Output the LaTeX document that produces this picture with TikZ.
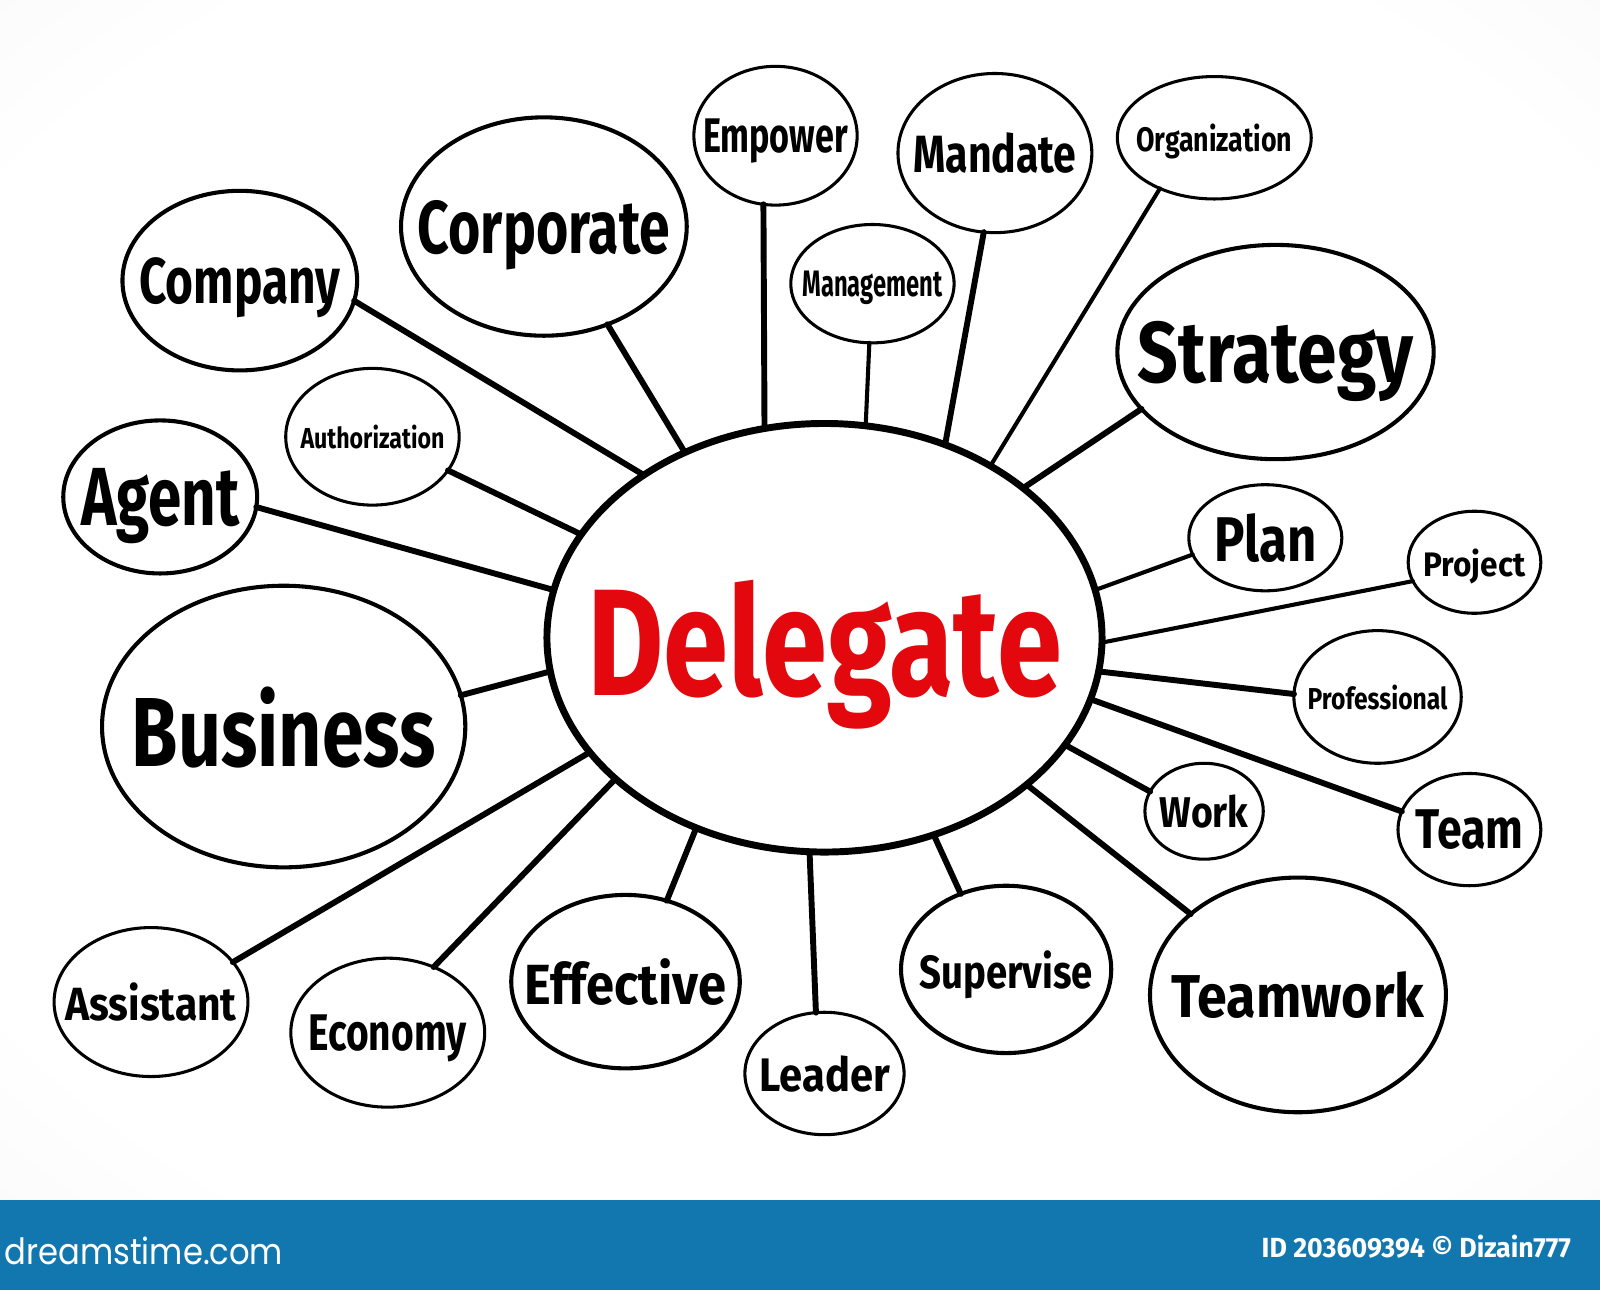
\documentclass[tikz,border=0pt]{standalone}
\usepackage{fontspec}
\usepackage{graphicx}
\setmainfont{Fira Sans}
\newfontfamily\bannerfont{Poppins}
\usetikzlibrary{shapes.geometric}
\definecolor{bannerblue}{RGB}{17,119,174}
\definecolor{delred}{RGB}{226,8,14}
\pgfdeclareradialshading{bgshade}{\pgfpoint{0bp}{0bp}}{%
  color(0bp)=(white); color(30bp)=(white); color(48bp)=(black!5); color(70bp)=(black!9); color(100bp)=(black!9)}
% label: width (pt), height (pt), text -- centred, taking no room in the node
\newcommand\lbl[3]{\makebox[0pt]{\raisebox{-0.5\height}[0pt][0pt]{\resizebox{#1pt}{#2pt}{\bfseries #3}}}}
\newcommand\blbl[3]{\makebox[0pt]{\raisebox{-0.5\height}[0pt][0pt]{\resizebox{#1pt}{#2pt}{#3}}}}
\tikzset{
  bub/.style={ellipse, draw=black, line width=2pt, inner sep=0pt, outer sep=0pt},
  sbub/.style={bub, line width=1.5pt},
  hub/.style={ellipse, draw=black, line width=3.4pt, inner sep=0pt, outer sep=0pt,
              minimum width=272pt, minimum height=210pt, text=delred},
  link/.style={line width=2.9pt, line cap=round},
  thin link/.style={line width=2pt, line cap=round},
}
\begin{document}
\begin{tikzpicture}[x=0.5pt,y=-0.5pt]
\useasboundingbox (0,0) rectangle (1568,1264);
\shade[shading=bgshade] (0,0) rectangle (1568,1176);
\fill[bannerblue] (0,1176) rectangle (1568,1264);

% centre
\node[hub] (delegate) at (808,625) {\lbl{232.5}{56.5}{Delegate}};

% satellites
\node[bub, minimum width=115pt, minimum height=88pt]  (company)       at (235,275)  {\lbl{98.5}{22.5}{Company}};
\node[bub, minimum width=140pt, minimum height=107pt] (corporate)     at (533,222)  {\lbl{123.5}{26}{Corporate}};
\node[sbub, minimum width=80pt, minimum height=68pt]  (empower)       at (760,133)  {\lbl{71}{16.5}{Empower}};
\node[sbub, minimum width=95pt, minimum height=78pt]  (mandate)       at (975,150)  {\lbl{80}{19.5}{Mandate}};
\node[sbub, minimum width=95pt, minimum height=60pt]  (organization)  at (1190,135) {\lbl{76.5}{13.5}{Organization}};
\node[sbub, minimum width=80pt, minimum height=58pt]  (management)    at (855,278)  {\lbl{68.5}{12.5}{Management}};
\node[bub, minimum width=155pt, minimum height=105pt] (strategy)      at (1250,345) {\lbl{135}{30}{Strategy}};
\node[sbub, minimum width=85pt, minimum height=67pt]  (authorization) at (365,428)  {\lbl{70.5}{11.5}{Authorization}};
\node[bub, minimum width=95pt, minimum height=75pt]   (agent)         at (157,487)  {\lbl{77.5}{28}{Agent}};
\node[sbub, minimum width=75pt, minimum height=52pt]  (plan)          at (1240,527) {\lbl{50}{23.5}{Plan}};
\node[sbub, minimum width=65pt, minimum height=50pt]  (project)       at (1445,551) {\lbl{50}{13.5}{Project}};
\node[sbub, minimum width=82pt, minimum height=65pt]  (professional)  at (1350,683) {\lbl{68.5}{12}{Professional}};
\node[bub, minimum width=178pt, minimum height=138pt] (business)      at (278,712)  {\lbl{149}{39}{Business}};
\node[sbub, minimum width=58pt, minimum height=47pt]  (work)          at (1180,795) {\lbl{43.5}{16}{Work}};
\node[sbub, minimum width=70pt, minimum height=55pt]  (team)          at (1440,813) {\lbl{53}{19}{Team}};
\node[sbub, minimum width=95pt, minimum height=73pt]  (assistant)     at (148,982)  {\lbl{84}{18.5}{Assistant}};
\node[sbub, minimum width=95pt, minimum height=73pt]  (economy)       at (380,1012) {\lbl{77.5}{17.5}{Economy}};
\node[bub, minimum width=112pt, minimum height=85pt]  (effective)     at (613,962)  {\lbl{98.5}{22.5}{Effective}};
\node[sbub, minimum width=78pt, minimum height=60pt]  (leader)        at (808,1052) {\lbl{64}{17.5}{Leader}};
\node[bub, minimum width=103pt, minimum height=82pt]  (supervise)     at (986,950)  {\lbl{85}{18.5}{Supervise}};
\node[bub, minimum width=145pt, minimum height=115pt] (teamwork)      at (1272,975) {\lbl{124}{22.5}{Teamwork}};

% connectors
\draw[link] (company.-10) -- (delegate.138);
\draw[link] (corporate.-57) -- (delegate.127);
\draw[link] (empower.-100) -- (delegate.106);
\draw[thin link] (management.-93) -- (delegate.79);
\draw[link] (mandate.-98) -- (delegate.58);
\draw[thin link] (organization.-137) -- (delegate.46);
\draw[link] (strategy.-157) -- (delegate.37);
\draw[link] (authorization.-24) -- (delegate.157);
\draw[link] (agent.-6) -- (delegate.170);
\draw[thin link] (plan.-167) -- (delegate.10);
\draw[thin link] (project.-163) -- (delegate.-1);
\draw[link] (professional.178) -- (delegate.-7);
\draw[link] (business.10) -- (delegate.-173);
\draw[link] (work.160) -- (delegate.-24);
\draw[link] (team.165) -- (delegate.-13);
\draw[link] (teamwork.143) -- (delegate.-36);
\draw[link] (supervise.121) -- (delegate.-61);
\draw[link] (leader.98) -- (delegate.-94);
\draw[link] (effective.63) -- (delegate.-124);
\draw[link] (economy.55) -- (delegate.-146);
\draw[link] (assistant.26) -- (delegate.-154);

% banner texts
\node[text=white, inner sep=0pt] (site) at (141,1226) {\blbl{136.5}{13.5}{\bannerfont dreamstime.com}};
\node[text=white, inner sep=0pt] (imgid) at (1388,1221) {\blbl{151.5}{11}{\bfseries ID 203609394 © Dizain777}};
\end{tikzpicture}
\end{document}
